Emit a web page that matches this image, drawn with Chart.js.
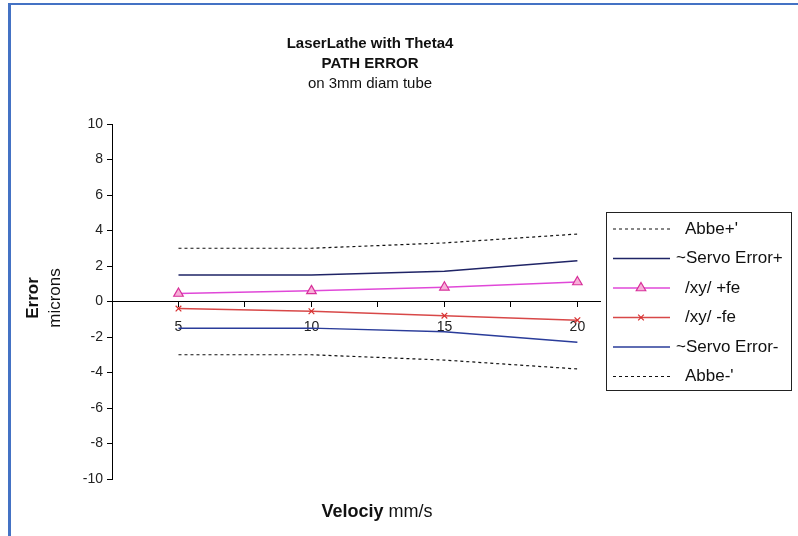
<!DOCTYPE html>
<html>
<head>
<meta charset="utf-8">
<script src="https://cdn.jsdelivr.net/npm/chart.js@4.4.0/dist/chart.umd.min.js"></script>
<style>
  html, body { margin: 0; padding: 0; background: #fff; }
  body { width: 798px; height: 536px; position: relative; overflow: hidden; }
  .frame { position: absolute; left: 8px; top: 3px; right: -10px; bottom: -10px;
           border-left: 3px solid #4472c4; border-top: 2px solid #4472c4; }
  #wrap { position: absolute; left: 0; top: 0; width: 798px; height: 536px; }
</style>
</head>
<body>
<div class="frame"></div>
<div id="wrap"><canvas id="chart" width="798" height="536"></canvas></div>
<script>
const velocity = [5, 10, 15, 20];
const abbePlus = [3.0, 3.0, 3.3, 3.8];
const servoPlus = [1.5, 1.5, 1.7, 2.3];
const xyPlus = [0.45, 0.6, 0.8, 1.1];
const xyMinus = [-0.4, -0.55, -0.8, -1.05];
const servoMinus = [-1.5, -1.5, -1.7, -2.3];
const abbeMinus = [-3.0, -3.0, -3.3, -3.8];
const xTickLabels = [5, 10, 15, 20];

const FONT = "'Liberation Sans', Arial, sans-serif";
Chart.defaults.font.family = FONT;

function pts(values) {
  return velocity.map((v, i) => ({ x: v, y: values[i] }));
}

function plainLine(label, values, color, dash, width) {
  return {
    label: label,
    data: pts(values),
    borderColor: color,
    backgroundColor: color,
    borderWidth: width,
    borderDash: dash,
    pointRadius: 0,
    tension: 0
  };
}

const datasets = [
  plainLine("Abbe+'", abbePlus, "#111", [3, 3], 1.2),
  plainLine("~Servo Error+", servoPlus, "#1f2466", [], 1.5),
  {
    label: "/xy/ +fe",
    data: pts(xyPlus),
    borderColor: "#e048d8",
    borderWidth: 1.5,
    pointStyle: "triangle",
    pointRadius: 5.5,
    pointBorderWidth: 1.2,
    pointBackgroundColor: "#f7b0d8",
    pointBorderColor: "#d8309a",
    tension: 0
  },
  {
    label: "/xy/ -fe",
    data: pts(xyMinus),
    borderColor: "#d84848",
    borderWidth: 1.5,
    pointStyle: "crossRot",
    pointRadius: 4,
    pointBorderWidth: 1.2,
    pointBorderColor: "#d83030",
    tension: 0
  },
  plainLine("~Servo Error-", servoMinus, "#2a3c9a", [], 1.5),
  plainLine("Abbe-'", abbeMinus, "#111", [3, 3], 1.2)
];

// titles, axis titles and the boxed legend
const decorations = {
  id: "decorations",
  afterDraw(chart) {
    const ctx = chart.ctx;
    ctx.save();
    ctx.fillStyle = "#111";
    ctx.textAlign = "center";
    ctx.textBaseline = "middle";
    ctx.font = "bold 15px " + FONT;
    ctx.fillText("LaserLathe with Theta4", 370, 44);
    ctx.fillText("PATH ERROR", 370, 64);
    ctx.font = "15px " + FONT;
    ctx.fillText("on 3mm diam tube", 370, 84);

    // y title
    ctx.textBaseline = "alphabetic";
    ctx.save();
    ctx.translate(38, 298);
    ctx.rotate(-Math.PI / 2);
    ctx.font = "bold 17px " + FONT;
    ctx.fillText("Error", 0, 0);
    ctx.restore();
    ctx.save();
    ctx.translate(60, 298);
    ctx.rotate(-Math.PI / 2);
    ctx.font = "17px " + FONT;
    ctx.fillText("microns", 0, 0);
    ctx.restore();

    // x title
    ctx.textAlign = "left";
    ctx.font = "bold 18px " + FONT;
    const w1 = ctx.measureText("Velociy").width;
    ctx.font = "18px " + FONT;
    const w2 = ctx.measureText(" mm/s").width;
    const x0 = 377 - (w1 + w2) / 2;
    ctx.font = "bold 18px " + FONT;
    ctx.fillText("Velociy", x0, 517);
    ctx.font = "18px " + FONT;
    ctx.fillText(" mm/s", x0 + w1, 517);

    // legend
    ctx.strokeStyle = "#222";
    ctx.lineWidth = 1;
    ctx.setLineDash([]);
    ctx.strokeRect(606.5, 212.5, 185, 178);
    chart.data.datasets.forEach((ds, i) => {
      const y = 229 + i * 29.5;
      ctx.save();
      ctx.strokeStyle = ds.borderColor;
      ctx.lineWidth = ds.borderWidth;
      ctx.setLineDash(ds.borderDash || []);
      ctx.beginPath();
      ctx.moveTo(613, y);
      ctx.lineTo(670, y);
      ctx.stroke();
      ctx.restore();
      if (ds.pointRadius > 0) {
        ctx.save();
        ctx.strokeStyle = ds.pointBorderColor;
        ctx.fillStyle = ds.pointBackgroundColor || "transparent";
        ctx.lineWidth = ds.pointBorderWidth;
        Chart.helpers.drawPoint(ctx, { pointStyle: ds.pointStyle, radius: ds.pointRadius, rotation: 0, borderWidth: ds.pointBorderWidth }, 641, y);
        ctx.restore();
      }
      ctx.fillStyle = "#111";
      ctx.font = "17px " + FONT;
      ctx.textBaseline = "middle";
      ctx.textAlign = "left";
      const tx = ds.label.startsWith("~") ? 676 : 685;
      ctx.fillText(ds.label, tx, y);
    });
    ctx.restore();
  }
};

new Chart(document.getElementById("chart"), {
  type: "line",
  data: { datasets: datasets },
  options: {
    responsive: false,
    animation: false,
    devicePixelRatio: 1,
    layout: { padding: { left: 0, right: 198, top: 124, bottom: 57 } },
    plugins: {
      legend: { display: false },
      title: { display: false },
      tooltip: { enabled: false }
    },
    scales: {
      x: {
        type: "linear",
        min: 2.5,
        max: 20.85,
        position: { y: 0 },
        grid: { drawOnChartArea: false, drawTicks: true, tickLength: 5, color: "#000" },
        border: { display: true, color: "#000", width: 1 },
        ticks: {
          stepSize: 2.5,
          includeBounds: false,
          autoSkip: false,
          maxRotation: 0,
          padding: 12,
          color: "#222",
          font: { size: 14 },
          callback: v => (xTickLabels.includes(v) ? v : "")
        }
      },
      y: {
        min: -10,
        max: 10,
        afterFit: scale => { scale.width = 112; },
        grid: { drawOnChartArea: false, drawTicks: true, tickLength: 5, color: "#000" },
        border: { display: true, color: "#000", width: 1 },
        ticks: { stepSize: 2, padding: 4, color: "#222", font: { size: 14 } }
      }
    }
  },
  plugins: [decorations]
});
</script>
</body>
</html>
